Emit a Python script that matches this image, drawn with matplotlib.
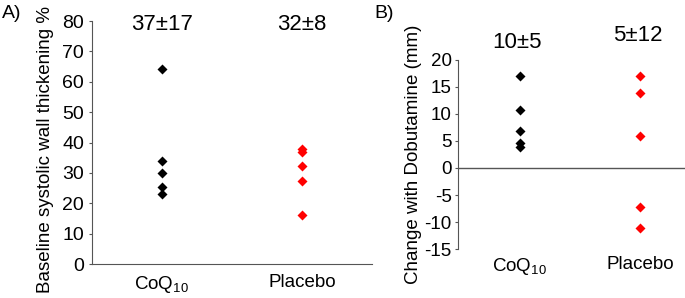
import matplotlib
matplotlib.use('Agg')
import matplotlib.pyplot as plt

plt.rcParams['font.family'] = ['Liberation Sans', 'DejaVu Sans']
plt.rcParams['mathtext.default'] = 'regular'

groups = ['CoQ$_{10}$', 'Placebo']

# panel A: baseline systolic wall thickening (%)
a_coq = [64.2, 34.0, 30.0, 25.4, 23.0]
a_placebo = [38.0, 37.0, 32.2, 27.3, 16.2]
a_stats = ['37\u00b117', '32\u00b18']

# panel B: change with dobutamine (mm)
b_coq = [17.0, 10.7, 6.9, 4.7, 3.8]
b_placebo = [17.0, 13.9, 5.9, -7.2, -11.2]
b_stats = ['10\u00b15', '5\u00b112']

spine_col = '#555555'

fig = plt.figure(figsize=(6.85, 2.98), dpi=100)

# ---- panel A
axA = fig.add_axes([0.134, 0.114, 0.409, 0.8155])
axA.plot([1] * len(a_coq), a_coq, 'D', color='black', ms=5.5, mec='none')
axA.plot([2] * len(a_placebo), a_placebo, 'D', color='red', ms=5.5, mec='none')
axA.set_xlim(0.5, 2.5)
axA.set_ylim(0, 80)
axA.set_yticks(range(0, 81, 10))
axA.set_xticks([1, 2])
axA.set_xticklabels(groups)
axA.set_ylabel('Baseline systolic wall thickening %', fontsize=13.5, labelpad=4)
axA.yaxis.set_label_coords(-0.135, 0.47)
for s in ['top', 'right']:
    axA.spines[s].set_visible(False)
for s in ['left', 'bottom']:
    axA.spines[s].set_color(spine_col)
axA.tick_params(axis='y', length=2.5, color=spine_col, labelsize=14, pad=3)
axA.tick_params(axis='x', length=0, labelsize=13.5, pad=7)

# ---- panel B
axB = fig.add_axes([0.6686, 0.1644, 0.3314, 0.6343])
axB.plot([1] * len(b_coq), b_coq, 'D', color='black', ms=5.5, mec='none')
axB.plot([2] * len(b_placebo), b_placebo, 'D', color='red', ms=5.5, mec='none')
axB.axhline(0, color=spine_col, lw=1)
axB.set_xlim(0.49, 2.37)
axB.set_ylim(-15, 20)
bt = list(range(-15, 21, 5))
axB.set_yticks(bt)
axB.set_yticklabels([str(t) for t in bt])
axB.set_xticks([1, 2])
axB.set_xticklabels(groups)
axB.set_ylabel('Change with Dobutamine (mm)', fontsize=13.5, labelpad=2)
for s in ['top', 'right', 'bottom']:
    axB.spines[s].set_visible(False)
axB.spines['left'].set_color(spine_col)
axB.tick_params(axis='y', length=2.5, color=spine_col, labelsize=13.5, pad=2)
axB.tick_params(axis='x', length=0, labelsize=13.5, pad=5)

# stats above each group
for i, t in enumerate(a_stats):
    axA.text(i + 1, 79, t, ha='center', va='center', fontsize=16,
             clip_on=False)
axB.text(0.98, 23.3, b_stats[0], ha='center', va='center', fontsize=16,
         clip_on=False)
axB.text(1.98, 24.6, b_stats[1], ha='center', va='center', fontsize=16,
         clip_on=False)

fig.text(0.003, 0.955, 'A)', fontsize=14, va='center')
fig.text(0.547, 0.955, 'B)', fontsize=14, va='center')

fig.savefig('out.png', dpi=100)
